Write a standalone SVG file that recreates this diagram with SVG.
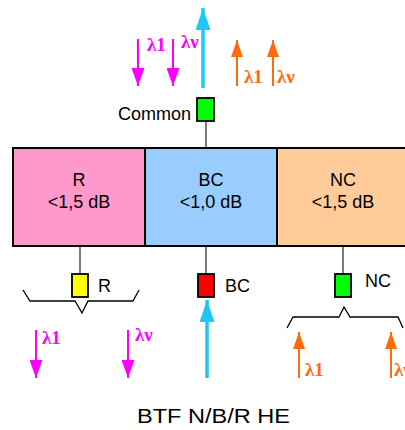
<svg xmlns="http://www.w3.org/2000/svg" width="405" height="430" viewBox="0 0 405 430">
<defs>
<style>
.box{stroke:#000;stroke-width:2}
.lbl{font-family:"Liberation Sans",Arial,sans-serif;font-size:18px;fill:#000}
.sq{stroke:#000;stroke-width:1.8}
.stem{stroke:#333;stroke-width:1.3;fill:none}
.brace{stroke:#000;stroke-width:1.3;fill:none}
.lam{font-family:"Liberation Serif","Times New Roman",serif;font-size:19px;font-weight:bold}
.mag{stroke:#ff00ff;stroke-width:2;fill:none}
.cy{stroke:#1ec8f5;stroke-width:3.5;fill:none}
.or{stroke:#ff6a0a;stroke-width:2;fill:none}
</style>
<marker id="mMag" markerUnits="userSpaceOnUse" markerWidth="18" markerHeight="13" refX="18" refY="6.5" orient="auto"><path d="M0,0 L18,6.5 L0,13 z" fill="#ff00ff"/></marker>
<marker id="mCy" markerUnits="userSpaceOnUse" markerWidth="22" markerHeight="15" refX="22" refY="7.5" orient="auto"><path d="M0,0 L22,7.5 L0,15 z" fill="#1ec8f5"/></marker>
<marker id="mOr" markerUnits="userSpaceOnUse" markerWidth="17" markerHeight="12" refX="17" refY="6" orient="auto"><path d="M0,0 L17,6 L0,12 z" fill="#ff6a0a"/></marker>
</defs>
<rect width="405" height="430" fill="#fff"/>

<g id="connectors">
<line class="stem" x1="206" y1="121" x2="206" y2="148"/>
<line class="stem" x1="80" y1="246" x2="80" y2="274"/>
<line class="stem" x1="206" y1="246" x2="206" y2="274"/>
<line class="stem" x1="343" y1="246" x2="343" y2="274"/>
<polyline class="brace" points="23,290 30,301 75,301 82,313 88,301 133,301 139,290"/>
<polyline class="brace" points="287,328 293,317 339,317 344,307 350,317 398,317 403,328"/>
</g>

<g id="arrows-top">
<line class="mag" x1="138" y1="39" x2="138" y2="86" marker-end="url(#mMag)"/>
<line class="mag" x1="173" y1="39" x2="173" y2="86" marker-end="url(#mMag)"/>
<line class="cy" x1="203" y1="88" x2="203" y2="8" marker-end="url(#mCy)"/>
<line class="or" x1="237" y1="86" x2="237" y2="40" marker-end="url(#mOr)"/>
<line class="or" x1="273" y1="86" x2="273" y2="40" marker-end="url(#mOr)"/>
<text class="lam" x="147" y="51" fill="#ff00ff">λ1</text>
<text class="lam" x="181" y="48" fill="#ff00ff">λν</text>
<text class="lam" x="244" y="83" fill="#ff6a0a">λ1</text>
<text class="lam" x="277" y="83" fill="#ff6a0a">λν</text>
</g>

<g id="arrows-bottom">
<line class="mag" x1="36" y1="330" x2="36" y2="378" marker-end="url(#mMag)"/>
<line class="mag" x1="128" y1="330" x2="128" y2="378" marker-end="url(#mMag)"/>
<line class="cy" x1="207" y1="378" x2="207" y2="300" marker-end="url(#mCy)"/>
<line class="or" x1="299" y1="378" x2="299" y2="332" marker-end="url(#mOr)"/>
<line class="or" x1="391" y1="378" x2="391" y2="332" marker-end="url(#mOr)"/>
<text class="lam" x="42" y="344" fill="#ff00ff">λ1</text>
<text class="lam" x="135" y="341" fill="#ff00ff">λν</text>
<text class="lam" x="305" y="376" fill="#ff6a0a">λ1</text>
<text class="lam" x="394" y="376" fill="#ff6a0a">λν</text>
</g>

<g id="node-R">
<rect class="box" x="13" y="148" width="132" height="98" fill="#ff99cc"/>
<text class="lbl" x="79" y="186" text-anchor="middle">R</text>
<text class="lbl" x="79" y="208" text-anchor="middle">&lt;1,5 dB</text>
</g>
<g id="node-BC">
<rect class="box" x="145" y="148" width="132" height="98" fill="#99ccff"/>
<text class="lbl" x="211" y="186" text-anchor="middle">BC</text>
<text class="lbl" x="211" y="208" text-anchor="middle">&lt;1,0 dB</text>
</g>
<g id="node-NC">
<rect class="box" x="277" y="148" width="133" height="98" fill="#ffcc99"/>
<text class="lbl" x="343" y="186" text-anchor="middle">NC</text>
<text class="lbl" x="343" y="208" text-anchor="middle">&lt;1,5 dB</text>
</g>

<g id="port-common">
<rect class="sq" x="197" y="98" width="17" height="23" fill="#00ff00"/>
<text class="lbl" x="191" y="120" text-anchor="end">Common</text>
</g>
<g id="port-R">
<rect class="sq" x="72" y="274" width="16" height="23" fill="#ffff00"/>
<text class="lbl" x="98" y="292">R</text>
</g>
<g id="port-BC">
<rect class="sq" x="198" y="274" width="16" height="23" fill="#ff0000"/>
<text class="lbl" x="225" y="292">BC</text>
</g>
<g id="port-NC">
<rect class="sq" x="335" y="274" width="16" height="23" fill="#00ff00"/>
<text class="lbl" x="365" y="287">NC</text>
</g>

<text class="lbl" x="137" y="423" textLength="153" lengthAdjust="spacingAndGlyphs" style="font-size:20px">BTF N/B/R HE</text>
</svg>
